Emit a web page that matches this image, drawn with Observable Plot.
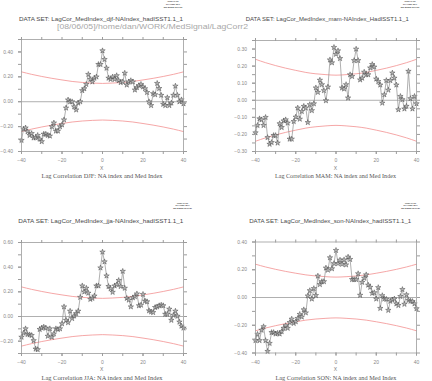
<!DOCTYPE html>
<html><head><meta charset="utf-8">
<script src="https://cdn.jsdelivr.net/npm/d3@7"></script>
<script src="https://cdn.jsdelivr.net/npm/@observablehq/plot@0.6"></script>
<style>
html,body{margin:0;padding:0;background:#fff;}
#page{position:relative;width:432px;height:381px;overflow:hidden;background:#fff;}
#page .panel{position:absolute;}
#overlay{position:absolute;left:0;top:0;pointer-events:none;}
</style></head><body><div id="page"></div>
<script>
// ---------- data ----------
const lags = [-40,-39,-38,-37,-36,-35,-34,-33,-32,-31,-30,-29,-28,-27,-26,-25,-24,-23,-22,-21,
  -20,-19,-18,-17,-16,-15,-14,-13,-12,-11,-10,-9,-8,-7,-6,-5,-4,-3,-2,-1,0,
  1,2,3,4,5,6,7,8,9,10,11,12,13,14,15,16,17,18,19,20,21,22,23,24,25,26,27,28,29,30,
  31,32,33,34,35,36,37,38,39,40];

const djf = [-0.31,-0.22,-0.21,-0.24,-0.27,-0.255,-0.29,-0.29,-0.27,-0.30,-0.32,-0.26,-0.26,-0.27,-0.275,-0.20,-0.17,-0.235,-0.235,-0.20,
  -0.185,-0.145,-0.05,0.015,0.00,0.00,-0.04,-0.065,-0.01,0.00,0.09,0.105,0.14,0.22,0.18,0.16,0.19,0.20,0.30,0.30,0.41,
  0.34,0.27,0.19,0.18,0.20,0.18,0.21,0.17,0.155,0.16,0.23,0.135,0.16,0.17,0.16,0.095,0.115,0.13,0.14,0.12,
  0.105,0.075,0.00,-0.03,0.066,0.057,0.148,0.107,0.052,-0.02,-0.03,0.033,-0.03,-0.01,0.052,0.126,0.052,0.00,0.016,-0.016];

const mam = [-0.19,-0.147,-0.108,-0.114,-0.147,-0.10,-0.218,-0.257,-0.247,-0.206,-0.206,-0.25,-0.137,-0.159,-0.12,-0.114,-0.133,-0.227,-0.227,-0.124,
  -0.098,-0.045,-0.11,-0.065,-0.035,-0.045,-0.13,-0.025,-0.06,-0.02,0.073,0.047,0.118,0.092,0.057,-0.002,0.078,0.237,0.22,0.31,0.27,
  0.29,0.245,0.073,0.067,0.092,0.014,0.15,0.14,0.233,0.30,0.233,0.12,0.13,0.165,0.15,0.15,0.19,0.21,0.195,0.125,
  0.11,0.09,-0.016,0.033,0.116,0.06,0.116,0.16,0.13,0.09,-0.055,0.023,0.004,-0.05,-0.035,0.17,0.01,-0.05,0.023,-0.02];

const jja = [-0.167,-0.134,-0.099,-0.145,-0.148,-0.153,-0.195,-0.263,-0.268,-0.104,-0.093,-0.085,-0.093,-0.159,-0.099,-0.167,-0.14,-0.099,-0.104,-0.099,
  -0.058,0.079,-0.03,-0.049,0.044,-0.016,0.005,0.025,0.044,0.156,0.249,0.20,0.23,0.19,0.14,0.148,0.167,0.249,0.249,0.395,0.523,
  0.444,0.33,0.244,0.225,0.197,0.249,0.258,0.293,0.244,0.367,0.23,0.148,0.134,0.079,0.153,0.162,0.184,0.088,0.093,0.18,
  0.126,0.12,0.047,0.038,0.033,0.074,0.079,0.088,0.093,0.088,0.019,0.019,0.06,-0.03,0.011,0.044,0.003,-0.044,-0.077,-0.093];

const son = [-0.31,-0.265,-0.31,-0.235,-0.21,-0.31,-0.388,-0.33,-0.252,-0.252,-0.262,-0.257,-0.262,-0.245,-0.221,-0.202,-0.221,-0.18,-0.155,-0.186,
  -0.174,-0.15,-0.121,-0.14,-0.088,-0.11,0.012,0.05,-0.01,0.065,0.015,0.155,0.094,0.115,0.115,0.213,0.198,0.287,0.208,0.245,0.34,
  0.245,0.27,0.24,0.272,0.236,0.292,0.275,0.13,0.13,0.13,0.172,0.017,0.11,0.14,0.164,0.09,0.074,0.031,0.035,-0.01,
  0.072,-0.078,0.014,-0.01,-0.012,-0.092,-0.026,-0.017,-0.01,-0.045,-0.057,0.008,0.058,-0.048,0.02,-0.02,-0.026,-0.028,-0.045,-0.08];

// significance level (upper; lower is its negative)
const sigLags = [-40,-35,-30,-25,-20,-15,-10,-5,0,5,10,15,20,25,30,35,40];
const sigUpper = [0.24,0.22,0.203,0.188,0.175,0.163,0.155,0.150,0.147,0.150,0.155,0.163,0.175,0.188,0.203,0.22,0.24];

const xTicks = [-40,-30,-20,-10,0,10,20,30,40];
const xLabels = [-40,-20,0,20,40];

const djfTicks = [-0.4,-0.3,-0.2,-0.1,0,0.1,0.2,0.3,0.4,0.5];
const djfLabels = [-0.4,-0.2,0,0.2,0.4];
const mamTicks = [-0.3,-0.25,-0.2,-0.15,-0.1,-0.05,0,0.05,0.1,0.15,0.2,0.25,0.3,0.35];
const mamLabels = [-0.3,-0.2,-0.1,0,0.1,0.2,0.3];
const jjaTicks = [-0.3,-0.2,-0.1,0,0.1,0.2,0.3,0.4,0.5,0.6];
const jjaLabels = [-0.2,0,0.2,0.4,0.6];
const sonTicks = [-0.4,-0.3,-0.2,-0.1,0,0.1,0.2,0.3,0.4];
const sonLabels = [-0.4,-0.2,0,0.2,0.4];

const seasonNames = ["DJF","MAM","JJA","SON"];
const datasetTitles = [
  "DATA SET: LagCor_MedIndex_djf-NAIndex_hadISST1.1_1",
  "DATA SET: LagCor_MedIndex_mam-NAIndex_HadISST1.1_1",
  "DATA SET: LagCor_MedIndex_jja-NAIndex_hadISST1.1_1",
  "DATA SET: LagCor_MedIndex_son-NAIndex_hadISST1.1_1"
];
const pathLabel = "[08/06/05]/home/dan/WORK/MedSignal/LagCorr2";
const stampLines = ["FERRET Ver. 5.50","NOAA/PMEL TMAP","Jun 8 2005 13:17:27"];

// ---------- drawing ----------
const page = document.getElementById("page");
const gridC = "#9c9c9c";
const labC = "#8a8a8a";

function panel(cfg) {
  const data = lags.map((x, i) => ({x, y: cfg.values[i]}));
  const up = sigLags.map((x, i) => ({x, y: sigUpper[i]}));
  const lo = sigLags.map((x, i) => ({x, y: -sigUpper[i]}));
  const blank = () => "";
  const axisStyle = {stroke: gridC, fill: labC, tickSize: 3, label: null};
  const svg = Plot.plot({
    width: 216, height: 140,
    marginLeft: cfg.ml, marginRight: cfg.mr, marginTop: cfg.mt, marginBottom: cfg.mb,
    x: {domain: [-40, 40]},
    y: {domain: cfg.yDomain},
    style: {fontFamily: "Liberation Sans, Arial, sans-serif", fontSize: "5px", color: labC, background: "transparent"},
    marks: [
      Plot.ruleY([0], {stroke: gridC, strokeWidth: 0.8}),
      Plot.line(up, {x: "x", y: "y", stroke: "#f29090", strokeWidth: 0.8, curve: "natural"}),
      Plot.line(lo, {x: "x", y: "y", stroke: "#f29090", strokeWidth: 0.8, curve: "natural"}),
      Plot.line(data, {x: "x", y: "y", stroke: "#8e8e8e", strokeWidth: 0.7}),
      Plot.dot(data, {x: "x", y: "y", symbol: "star", r: 1.7, fill: "#b8b8b8", stroke: "#3c3c3c", strokeWidth: 0.45}),
      Plot.frame({stroke: gridC, strokeWidth: 0.8}),
      Plot.axisX({...axisStyle, anchor: "bottom", ticks: xTicks, tickFormat: blank}),
      Plot.axisX({...axisStyle, anchor: "bottom", ticks: xLabels, tickPadding: 4, tickFormat: d3.format("d")}),
      Plot.axisX({...axisStyle, anchor: "top", ticks: xTicks, tickFormat: blank}),
      Plot.axisY({...axisStyle, anchor: "left", ticks: cfg.yTicks, tickFormat: blank}),
      Plot.axisY({...axisStyle, anchor: "left", ticks: cfg.yLabels, tickPadding: 5.5, tickFormat: d3.format(".2f")}),
      Plot.axisY({...axisStyle, anchor: "right", ticks: cfg.yTicks, tickFormat: blank})
    ]
  });
  svg.classList.add("panel");
  svg.style.left = cfg.left + "px";
  svg.style.top = cfg.top + "px";
  page.appendChild(svg);
}

panel({values: djf, yDomain: [-0.4, 0.5], yTicks: djfTicks, yLabels: djfLabels, left: 0, top: 30, ml: 21, mr: 33, mt: 9, mb: 19});
panel({values: mam, yDomain: [-0.3, 0.35], yTicks: mamTicks, yLabels: mamLabels, left: 216, top: 30, ml: 39, mr: 16, mt: 10, mb: 19});
panel({values: jja, yDomain: [-0.3, 0.6], yTicks: jjaTicks, yLabels: jjaLabels, left: 0, top: 232, ml: 21, mr: 33, mt: 10, mb: 19});
panel({values: son, yDomain: [-0.4, 0.4], yTicks: sonTicks, yLabels: sonLabels, left: 216, top: 232, ml: 39, mr: 16, mt: 9.5, mb: 19.5});

// ---------- overlay texts ----------
const ov = d3.select(page).append("svg").attr("id", "overlay").attr("width", 432).attr("height", 381);
function txt(s, x, y, size, w, opts = {}) {
  const t = ov.append("text").attr("x", x).attr("y", y).attr("text-anchor", "middle")
    .attr("font-size", size).attr("font-family", opts.font || "Liberation Sans, Arial, sans-serif")
    .attr("fill", opts.fill || "#4a4a4a").text(s);
  if (opts.weight) t.attr("font-weight", opts.weight);
  if (w) t.attr("textLength", w).attr("lengthAdjust", "spacingAndGlyphs");
  return t;
}
const P = [
  {tx: 101, ty: 20.8, tw: 164, xx: 101.7, xy: 169.5, cx: 102, cy: 178, sx: 173, sy: 2.3},
  {tx: 327.3, ty: 20.8, tw: 163, xx: 335.5, xy: 169.5, cx: 335.5, cy: 178, sx: 410, sy: 2.3},
  {tx: 100.8, ty: 223.3, tw: 165, xx: 101.7, xy: 370.8, cx: 102, cy: 379.6, sx: 182.5, sy: 203.6},
  {tx: 330.2, ty: 223.3, tw: 162, xx: 335.5, xy: 370.8, cx: 336, cy: 379.6, sx: 410.5, sy: 203.6}
];
const stampW = [11, 14, 19];
P.forEach((p, i) => {
  txt(datasetTitles[i], p.tx, p.ty, 5.8, p.tw);
  txt("X", p.xx, p.xy, 5, null, {fill: "#7a7a7a"});
  txt("Lag Correlation " + seasonNames[i] + ": NA index and Med Index", p.cx, p.cy, 5.6, 121,
      {font: "Liberation Serif, Times New Roman, serif", fill: "#555"});
  stampLines.forEach((s, j) => txt(s, p.sx, p.sy + j * 2.65, 2.4, stampW[j], {fill: "#333", weight: "bold"}));
});
txt(pathLabel, 152.5, 28.6, 7.8, 191, {fill: "#a8a8a8"});
</script>
</body></html>
